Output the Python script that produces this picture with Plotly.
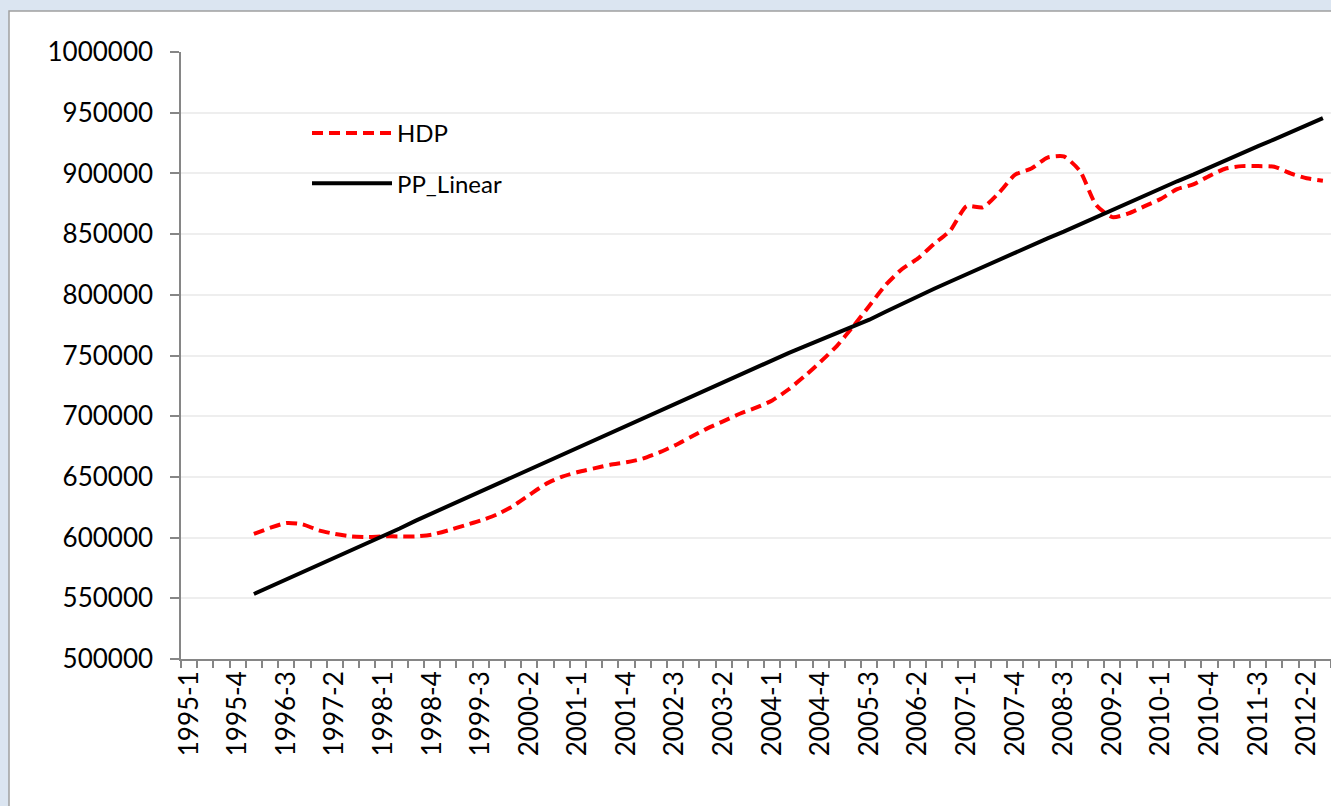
import plotly.graph_objects as go

# Categories: quarters 1995-1 .. 2012-3
quarters = [f"{y}-{q}" for y in range(1995, 2013) for q in range(1, 5)]
quarters = quarters[:quarters.index("2012-3") + 1]
tick_labels = [q if i % 3 == 0 else "" for i, q in enumerate(quarters)]

data_quarters = quarters[quarters.index("1996-1"):]

hdp = [603000, 608000, 612000, 611000, 606000, 603000, 601000, 600500, 601000, 601000,
       601000, 602500, 606000, 610000, 614000, 619000, 626000, 635000, 644000, 650000,
       654000, 657000, 660000, 662000, 665000, 670000, 676000, 683000, 690000, 696000,
       702000, 707000, 713000, 722000, 733000, 745000, 758000, 774000, 791000, 808000,
       821000, 830000, 842000, 853000, 873000, 872000, 884000, 899000, 904000, 913000,
       914000, 902000, 874000, 864000, 867000, 873000, 879000, 887000, 891000, 898000,
       904000, 906000, 906000, 905500, 900000, 896000, 894000]

pp_linear = [553500, 559500, 565500, 571500, 577500, 583000, 589000, 595000, 601000, 607500,
             614000, 620000, 626000, 632000, 638000, 644000, 650000, 656000, 662000, 668000,
             674000, 680000, 686500, 692500, 698500, 704500, 710500, 716500, 722000, 728000,
             734000, 740000, 746000, 752000, 757500, 763000, 768000, 773500, 779500, 786000,
             792500, 799000, 805000, 811000, 817000, 823000, 829000, 835000, 840500, 846500,
             852000, 858000, 864000, 870000, 876000, 881500, 887500, 893500, 899000, 905000,
             911000, 916500, 922500, 928000, 934000, 940000, 945500]

FONT = "Lato"
AXIS_COLOR = "#868686"

fig = go.Figure()
fig.add_trace(go.Scatter(
    x=data_quarters, y=hdp, name="HDP", mode="lines", legendgroup="a",
    line=dict(color="#ff0000", width=4, dash="11px,6px", shape="spline", smoothing=0.6),
))
fig.add_trace(go.Scatter(
    x=data_quarters, y=pp_linear, name="PP_Linear", mode="lines", legendgroup="b",
    line=dict(color="#000000", width=4),
))

W, H = 1331, 806
ml, mr, mt, mb = 181, 0, 52, 147
pw, ph = W - ml - mr, H - mt - mb

fig.add_shape(
    type="rect", xref="paper", yref="paper", layer="below",
    x0=(9 - ml) / pw, x1=1.3, y0=-0.5, y1=(H - mb - 11) / ph,
    fillcolor="white", line=dict(color="#a0a0a0", width=1.5),
)

fig.update_layout(
    width=W, height=H, autosize=False,
    margin=dict(l=ml, r=mr, t=mt, b=mb),
    paper_bgcolor="#dbe5f1",
    plot_bgcolor="rgba(0,0,0,0)",
    font=dict(family=FONT, size=26, color="#000000"),
    showlegend=True,
    legend=dict(
        x=(307 - ml) / pw, y=(H - mb - 111) / ph, xanchor="left", yanchor="top",
        bgcolor="rgba(0,0,0,0)", font=dict(family=FONT, size=24, color="#000000"),
        itemwidth=80, tracegroupgap=16, traceorder="grouped",
    ),
    xaxis=dict(
        type="category", categoryorder="array", categoryarray=quarters,
        range=[-0.5, len(quarters) - 0.5],
        tickmode="array", tickvals=quarters, ticktext=tick_labels,
        tickson="boundaries", ticks="outside", ticklen=7, tickcolor=AXIS_COLOR, tickwidth=1.5,
        showline=True, linecolor=AXIS_COLOR, linewidth=1.5,
        tickangle=-90, tickfont=dict(family=FONT, size=26, color="#000000"),
        showgrid=False, zeroline=False,
    ),
    yaxis=dict(
        range=[500000, 1000000], tickmode="linear", tick0=0, dtick=50000,
        tickformat="d", showgrid=True, gridcolor="#eeeeee", gridwidth=1.5,
        showline=True, linecolor=AXIS_COLOR, linewidth=1.5,
        ticks="outside", ticklen=9, tickcolor=AXIS_COLOR, tickwidth=1.5,
        tickfont=dict(family=FONT, size=26, color="#000000"),
        ticklabelstandoff=12, zeroline=False,
    ),
)

fig.write_html(
    "out.html",
    config={"displayModeBar": False},
    post_script="document.body.style.margin='0px';document.body.style.overflow='hidden';",
)
